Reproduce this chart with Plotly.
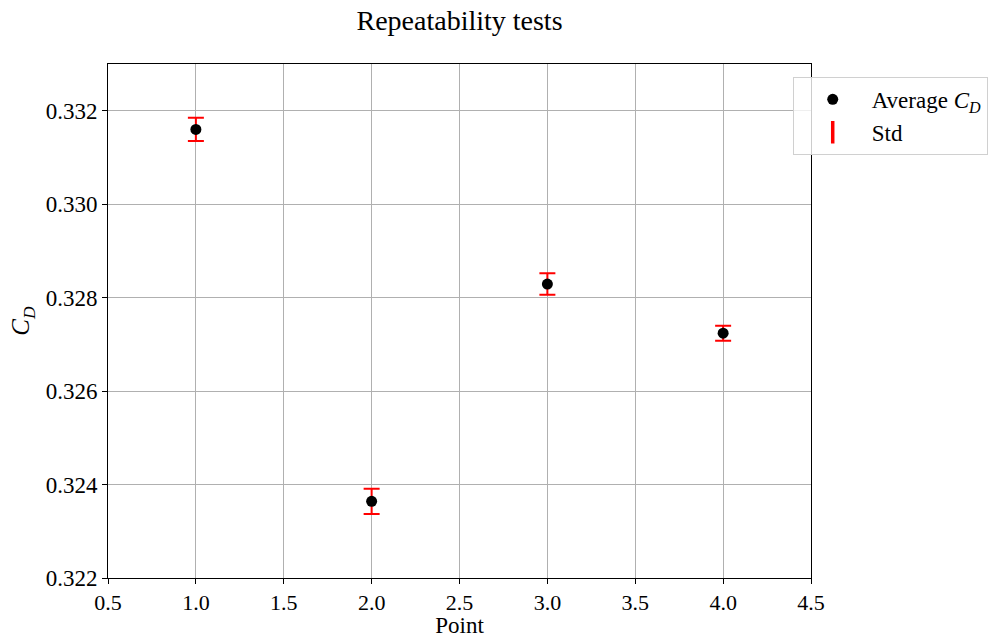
import plotly.graph_objects as go

points = [1, 2, 3, 4]
avg_cd = [0.33160, 0.32364, 0.32829, 0.32724]
std_cd = [0.00025, 0.00027, 0.00023, 0.00016]

x_ticks = [0.5, 1.0, 1.5, 2.0, 2.5, 3.0, 3.5, 4.0, 4.5]
y_ticks = [0.322, 0.324, 0.326, 0.328, 0.330, 0.332]

FONT = "Liberation Serif"

fig = go.Figure()
# error bars (no legend)
fig.add_trace(go.Scatter(
    x=points, y=avg_cd, mode="markers",
    marker=dict(size=1, color="rgba(0,0,0,0)"),
    error_y=dict(type="data", array=std_cd, color="red", thickness=2, width=8),
    showlegend=False, hoverinfo="skip"))
# average markers
fig.add_trace(go.Scatter(
    x=points, y=avg_cd, mode="markers", name="Average <i>C</i><sub><i>D</i></sub>",
    marker=dict(size=11, color="black")))
# legend entry for std
fig.add_trace(go.Scatter(
    x=[None], y=[None], mode="markers", name="Std",
    marker=dict(symbol="line-ns", size=22, color="red", line=dict(color="red", width=3.5))))

axis_common = dict(showline=True, linecolor="black", linewidth=1, mirror=True,
                   showgrid=True, gridcolor="#b0b0b0", gridwidth=1,
                   ticks="outside", ticklen=5, tickcolor="black",
                   zeroline=False)

fig.update_layout(
    width=998, height=638,
    margin=dict(l=108, r=187, t=64, b=60, autoexpand=False),
    paper_bgcolor="white", plot_bgcolor="white",
    title=dict(text="Repeatability tests", x=(108 + 811) / 2 / 998, xanchor="center",
               y=1 - 20 / 638, yanchor="middle",
               font=dict(family=FONT, size=28, color="black")),
    xaxis=dict(range=[0.5, 4.5], tickvals=x_ticks, tickformat=".1f",
               tickfont=dict(family=FONT, size=22, color="black"),
               title=dict(text="Point", font=dict(family=FONT, size=23, color="black"), standoff=7),
               **axis_common),
    yaxis=dict(range=[0.322, 0.333], tickvals=y_ticks, tickformat=".3f",
               tickfont=dict(family=FONT, size=23, color="black"),
               title=dict(text="<i>C</i><sub><i>D</i></sub>", font=dict(family=FONT, size=25, color="black"), standoff=8),
               **axis_common),
    legend=dict(x=0.974, y=0.975, xanchor="left", yanchor="top",
                bgcolor="rgba(255,255,255,0.8)", bordercolor="#d0d0d0", borderwidth=1,
                font=dict(family=FONT, size=23, color="black"), itemwidth=68,
                tracegroupgap=0),
    showlegend=True,
)

fig.write_html("out.html")
